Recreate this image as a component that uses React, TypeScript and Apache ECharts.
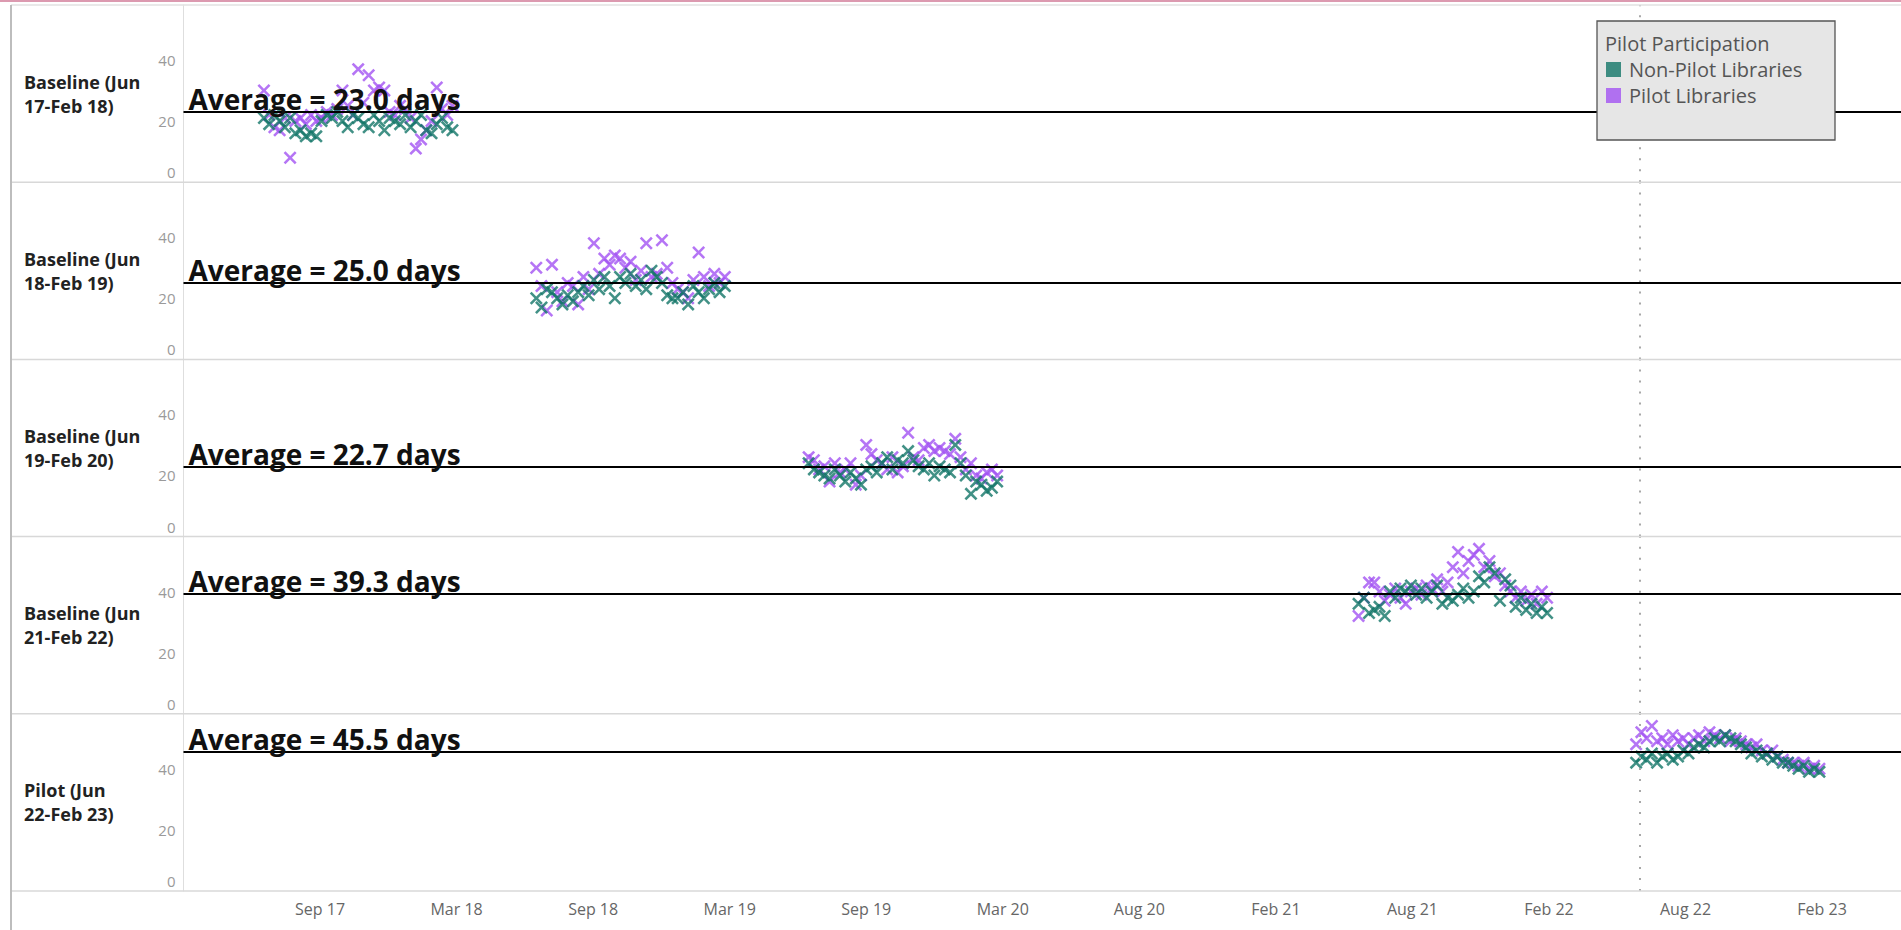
import React, { useEffect, useRef } from 'react';
import * as echarts from 'echarts';

// ---------------- data ----------------
const panelNames = [
  'Baseline (Jun\n17-Feb 18)',
  'Baseline (Jun\n18-Feb 19)',
  'Baseline (Jun\n19-Feb 20)',
  'Baseline (Jun\n21-Feb 22)',
  'Pilot (Jun\n22-Feb 23)',
];
const panelAverages = [23.0, 25.0, 22.7, 39.3, 45.5];
const panelFirstWeek = ['2017-06-18', '2018-06-17', '2019-06-16', '2021-06-20', '2022-06-26'];

const nonPilot1 = [21, 19, 22, 20, 18, 21, 16, 17, 15, 16, 15, 20, 22, 21, 23, 20, 18, 22, 21, 19, 18, 22, 20, 17, 21, 20, 19, 22, 18, 20, 22, 17, 16, 19, 21, 18, 17];
const pilot1 = [30, 22, 18, 17, 21, 8, 20, 21, 19, 22, 20, 21, 23, 22, 24, 30, 25, 22, 37, 26, 35, 30, 31, 30, 23, 22, 25, 24, 21, 11, 14, 17, 20, 31, 24, 22, 25];

const nonPilot2 = [20, 17, 23, 22, 20, 18, 21, 19, 22, 24, 21, 26, 23, 27, 24, 20, 27, 25, 28, 24, 26, 23, 29, 27, 25, 21, 20, 20, 22, 18, 24, 22, 20, 23, 25, 22, 24];
const pilot2 = [30, 24, 16, 31, 22, 19, 25, 24, 18, 27, 23, 38, 28, 33, 31, 34, 33, 30, 32, 26, 29, 38, 27, 28, 39, 30, 25, 23, 22, 20, 26, 35, 27, 24, 28, 25, 27];

const nonPilot3 = [24, 22, 21, 20, 19, 22, 20, 18, 21, 19, 17, 22, 23, 21, 24, 26, 22, 25, 24, 28, 25, 23, 22, 24, 20, 23, 22, 21, 30, 24, 20, 14, 18, 17, 15, 16, 18];
const pilot3 = [26, 25, 22, 23, 18, 24, 21, 22, 24, 17, 20, 30, 27, 25, 24, 22, 26, 21, 23, 34, 26, 25, 29, 30, 28, 29, 28, 27, 32, 26, 22, 24, 20, 19, 21, 22, 20];

const nonPilot4 = [36, 38, 33, 34, 35, 32, 40, 38, 41, 40, 42, 39, 41, 38, 40, 42, 36, 38, 37, 39, 41, 38, 40, 45, 43, 48, 46, 37, 44, 42, 35, 38, 34, 36, 33, 35, 33];
const pilot4 = [32, 38, 43, 43, 40, 37, 39, 41, 38, 36, 40, 41, 39, 42, 41, 44, 40, 43, 48, 53, 46, 50, 52, 54, 48, 50, 45, 46, 42, 40, 38, 40, 37, 39, 36, 40, 38];

const nonPilot5 = [42, 44, 43, 45, 42, 44, 45, 43, 44, 46, 45, 47, 48, 47, 49, 50, 49, 51, 50, 49, 48, 47, 45, 46, 44, 45, 43, 44, 42, 42, 41, 40, 41, 39, 40, 39];
const pilot5 = [48, 52, 50, 54, 49, 50, 48, 51, 49, 50, 48, 50, 51, 49, 52, 51, 50, 51, 49, 50, 49, 48, 47, 48, 46, 45, 46, 44, 43, 42, 42, 41, 42, 40, 41, 40];

const nonPilotSeries = [nonPilot1, nonPilot2, nonPilot3, nonPilot4, nonPilot5];
const pilotSeries = [pilot1, pilot2, pilot3, pilot4, pilot5];

const xTickLabels = ['Sep 17', 'Mar 18', 'Sep 18', 'Mar 19', 'Sep 19', 'Mar 20', 'Aug 20', 'Feb 21', 'Aug 21', 'Feb 22', 'Aug 22', 'Feb 23'];
const yTickLabels = [0, 20, 40];
const pilotStartDate = '2022-07-01';
const axisOriginDate = '2017-09-01'; // position of the first x tick label

// ---------------- layout / style ----------------
const W = 1901;
const H = 930;
const TOP = 5;
const PANEL_H = 177.2;
const PLOT_LEFT = 183.5;
const TICK_STEP_DAYS = 182.5;
const X_MIN = -182.5;
const X_MAX = 2113;
const Y_MAX = 58;
const TEAL = '#137568';
const PURPLE = '#a352f2';
const FONT = '"Open Sans", "Noto Sans", sans-serif';
const X_SYMBOL = 'path://M0,1.4L1.4,0L5,3.6L8.6,0L10,1.4L6.4,5L10,8.6L8.6,10L5,6.4L1.4,10L0,8.6L3.6,5Z';

const dayOf = (s: string) =>
  (Date.parse(s + 'T00:00:00Z') - Date.parse(axisOriginDate + 'T00:00:00Z')) / 86400000;

export default function App() {
  const ref = useRef<HTMLDivElement>(null);

  useEffect(() => {
    if (!ref.current) return;
    const chart = echarts.init(ref.current, undefined, { renderer: 'svg' });

    const grids: any[] = [];
    const xAxes: any[] = [];
    const yAxes: any[] = [];
    const series: any[] = [];
    const graphics: any[] = [];

    panelNames.forEach((name, i) => {
      const top = TOP + i * PANEL_H;
      const isLast = i === panelNames.length - 1;
      grids.push({ left: PLOT_LEFT, right: 0, top, height: PANEL_H, containLabel: false });
      xAxes.push({
        type: 'value',
        gridIndex: i,
        min: X_MIN,
        max: X_MAX,
        interval: TICK_STEP_DAYS,
        axisLine: { show: false, onZero: false },
        axisTick: { show: false },
        splitLine: { show: false },
        axisLabel: {
          show: isLast,
          margin: 10,
          fontSize: 16,
          color: '#666',
          fontFamily: FONT,
          showMinLabel: false,
          showMaxLabel: false,
          formatter: (v: number) => {
            const idx = Math.round(v / TICK_STEP_DAYS);
            if (Math.abs(v - idx * TICK_STEP_DAYS) > 0.5) return '';
            return xTickLabels[idx] ?? '';
          },
        },
      });
      yAxes.push({
        type: 'value',
        gridIndex: i,
        min: 0,
        max: Y_MAX,
        interval: 20,
        name,
        nameLocation: 'middle',
        nameRotate: 0,
        nameGap: PLOT_LEFT - 24,
        nameTextStyle: {
          align: 'left',
          verticalAlign: 'middle',
          fontSize: 18,
          fontWeight: 'bold',
          color: '#222',
          lineHeight: 24,
          fontFamily: FONT,
        },
        axisLine: { show: true, onZero: false, lineStyle: { color: '#dedede', width: 1 } },
        axisTick: { show: false },
        splitLine: { show: false },
        axisLabel: {
          margin: 8,
          fontSize: 15,
          color: '#9a9a9a',
          fontFamily: FONT,
          formatter: (v: number) => {
            if (!yTickLabels.includes(v)) return '';
            return v === 0 ? '{z|0}' : String(v);
          },
          rich: { z: { fontSize: 15, color: '#9a9a9a', fontFamily: FONT, padding: [0, 0, 20, 0] } },
        },
      });

      const x0 = dayOf(panelFirstWeek[i]);
      series.push({
        type: 'scatter',
        name: 'Pilot Libraries',
        xAxisIndex: i,
        yAxisIndex: i,
        symbol: X_SYMBOL,
        symbolSize: 13,
        itemStyle: { color: PURPLE },
        data: pilotSeries[i].map((v, k) => [x0 + 7 * k, v]),
        markLine: {
          silent: true,
          symbol: 'none',
          label: { show: false },
          lineStyle: { color: '#a8a8a8', width: 2, type: [2, 9] },
          data: [{ xAxis: dayOf(pilotStartDate) }],
        },
      });
      series.push({
        type: 'scatter',
        name: 'Non-Pilot Libraries',
        xAxisIndex: i,
        yAxisIndex: i,
        symbol: X_SYMBOL,
        symbolSize: 13,
        itemStyle: { color: TEAL },
        data: nonPilotSeries[i].map((v, k) => [x0 + 7 * k, v]),
        markLine: {
          silent: true,
          symbol: 'none',
          lineStyle: { color: '#000', width: 2, type: 'solid' },
          label: {
            show: true,
            position: 'insideStartTop',
            distance: [5, -1],
            formatter: () => `Average = ${panelAverages[i].toFixed(1)} days`,
            fontSize: 28,
            fontWeight: 'bold',
            color: '#111',
            fontFamily: FONT,
          },
          data: [{ yAxis: panelAverages[i] }],
        },
      });

      // row separator (spans header column and plot)
      graphics.push({
        type: 'line',
        z: 50,
        shape: { x1: 11, y1: top + PANEL_H, x2: W, y2: top + PANEL_H },
        style: { stroke: '#d8d8d8', lineWidth: 1.5 },
      });
    });

    // frame lines
    graphics.push({ type: 'line', z: 50, shape: { x1: 0, y1: 1, x2: W, y2: 1 }, style: { stroke: '#dc9ab0', lineWidth: 2 } });
    graphics.push({ type: 'line', z: 50, shape: { x1: 11, y1: TOP, x2: W, y2: TOP }, style: { stroke: '#e2e2e2', lineWidth: 1.5 } });
    graphics.push({ type: 'line', z: 50, shape: { x1: 11, y1: TOP, x2: 11, y2: H }, style: { stroke: '#bdbdbd', lineWidth: 2 } });

    // legend box
    graphics.push({
      type: 'rect',
      z: 100,
      shape: { x: 1597, y: 21, width: 238, height: 119 },
      style: { fill: '#e6e6e6', stroke: '#555', lineWidth: 1.3 },
    });
    graphics.push({
      type: 'text',
      z: 101,
      x: 1605,
      y: 43,
      style: { text: 'Pilot Participation', fontSize: 20, fill: '#555', fontFamily: FONT, verticalAlign: 'middle' },
    });

    chart.setOption({
      animation: false,
      backgroundColor: '#fff',
      grid: grids,
      xAxis: xAxes,
      yAxis: yAxes,
      series,
      graphic: graphics,
      legend: {
        z: 110,
        left: 1606,
        top: 59,
        orient: 'vertical',
        padding: 0,
        itemGap: 5,
        itemWidth: 15,
        itemHeight: 15,
        icon: 'rect',
        selectedMode: false,
        data: ['Non-Pilot Libraries', 'Pilot Libraries'],
        textStyle: { fontSize: 20, color: '#555', fontFamily: FONT, lineHeight: 21, padding: [0, 0, 0, 3] },
      },
    });

    return () => chart.dispose();
  }, []);

  return <div ref={ref} style={{ position: 'fixed', left: 0, top: 0, width: W, height: H }} />;
}
